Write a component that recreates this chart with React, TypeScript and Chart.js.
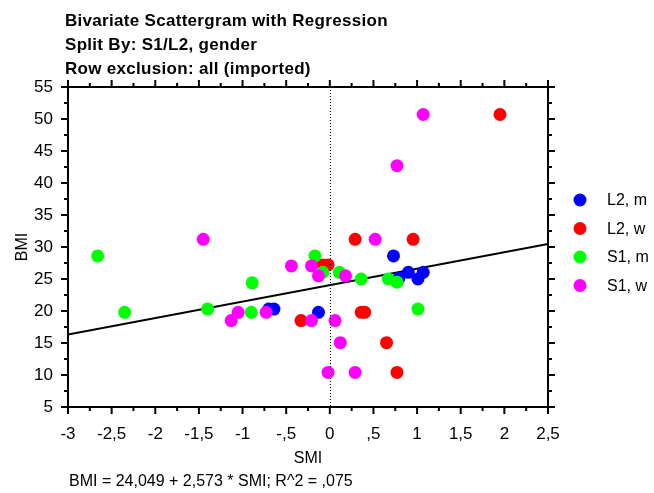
import React, { useEffect, useRef } from 'react';
import { Chart, registerables } from 'chart.js';

Chart.register(...registerables);

const FONT = '"Liberation Sans", Arial, sans-serif';

const titleLines = ['Bivariate Scattergram with Regression', 'Split By: S1/L2, gender', 'Row exclusion: all (imported)'];
const xAxisTitle = 'SMI';
const yAxisTitle = 'BMI';
const equationText = 'BMI = 24,049 + 2,573 * SMI; R^2 = ,075';

const seriesNames = ['L2, m', 'L2, w', 'S1, m', 'S1, w'];
const seriesColors = ['#0000FF', '#FF0000', '#00FF00', '#FF00FF'];

const l2mX = [-0.70, -0.64, -0.13, 0.73, 0.79, 0.90, 1.01, 1.07];
const l2mY = [20.3, 20.3, 19.8, 28.6, 25.1, 26.05, 25.0, 26.05];

const l2wX = [0.29, 0.955, 1.95, -0.08, -0.02, -0.33, 0.36, 0.40, 0.65, 0.77];
const l2wY = [31.2, 31.2, 50.7, 27.2, 27.2, 18.5, 19.8, 19.8, 15.05, 10.4];

const s1mX = [-2.66, -2.35, -1.40, -0.89, -0.90, -0.17, -0.08, 0.11, 0.36, 0.67, 0.77, 1.01];
const s1mY = [28.6, 19.8, 20.3, 24.4, 19.8, 28.6, 26.05, 26.05, 25.0, 25.0, 24.5, 20.3];

const s1wX = [1.07, 0.77, 0.52, -1.45, -1.13, -1.05, -0.73, -0.44, -0.21, -0.13, 0.18, -0.21, 0.06, 0.12, -0.02, 0.29];
const s1wY = [50.7, 42.7, 31.2, 31.2, 18.5, 19.8, 19.8, 27.05, 27.05, 25.5, 25.5, 18.5, 18.5, 15.05, 10.4, 10.4];

const regressionX = [-3, 2.5];
const regressionY = [16.33, 30.48];

const xTickValues = [-3, -2.5, -2, -1.5, -1, -0.5, 0, 0.5, 1, 1.5, 2, 2.5];
const xTickLabels = ['-3', '-2,5', '-2', '-1,5', '-1', '-,5', '0', ',5', '1', '1,5', '2', '2,5'];
const xMinorValues = [-2.75, -2.25, -1.75, -1.25, -0.75, -0.25, 0.25, 0.75, 1.25, 1.75, 2.25];
const yTickValues = [5, 10, 15, 20, 25, 30, 35, 40, 45, 50, 55];
const yTickLabels = ['5', '10', '15', '20', '25', '30', '35', '40', '45', '50', '55'];
const yMinorValues = [7.5, 12.5, 17.5, 22.5, 27.5, 32.5, 37.5, 42.5, 47.5, 52.5];

const xsAll = [l2mX, l2wX, s1mX, s1wX];
const ysAll = [l2mY, l2wY, s1mY, s1wY];

const framePlugin = {
  id: 'frame',
  afterDatasetsDraw(chart: any) {
    const { ctx, chartArea } = chart;
    const xs = chart.scales.x;
    const ys = chart.scales.y;
    const { left, right, top, bottom } = chartArea;
    ctx.save();
    // dotted zero line
    const zx = Math.round(xs.getPixelForValue(0)) + 0.5;
    ctx.strokeStyle = '#000';
    ctx.lineWidth = 1;
    ctx.setLineDash([1, 2]);
    ctx.beginPath();
    ctx.moveTo(zx, top);
    ctx.lineTo(zx, bottom);
    ctx.stroke();
    ctx.setLineDash([]);
    // box
    ctx.lineWidth = 2;
    ctx.strokeRect(left, top, right - left, bottom - top);
    // ticks
    const major = 7;
    const minor = 4;
    ctx.beginPath();
    const drawX = (v: number, len: number) => {
      const p = xs.getPixelForValue(v);
      ctx.moveTo(p, bottom);
      ctx.lineTo(p, bottom + len);
      ctx.moveTo(p, top);
      ctx.lineTo(p, top - len);
    };
    const drawY = (v: number, len: number) => {
      const p = ys.getPixelForValue(v);
      ctx.moveTo(left, p);
      ctx.lineTo(left - len, p);
      ctx.moveTo(right, p);
      ctx.lineTo(right + len, p);
    };
    xTickValues.forEach((v) => drawX(v, major));
    xMinorValues.forEach((v) => drawX(v, minor));
    yTickValues.forEach((v) => drawY(v, major));
    yMinorValues.forEach((v) => drawY(v, minor));
    ctx.stroke();
    ctx.restore();
  },
  afterDraw(chart: any) {
    const { ctx } = chart;
    ctx.save();
    ctx.fillStyle = '#000';
    ctx.textAlign = 'left';
    ctx.textBaseline = 'alphabetic';
    ctx.font = `bold 17px ${FONT}`;
    try { (ctx as any).letterSpacing = '0.3px'; } catch (e) {}
    const baselines = [26, 50, 73.5];
    titleLines.forEach((t, i) => ctx.fillText(t, 65, baselines[i]));
    try { (ctx as any).letterSpacing = '0px'; } catch (e) {}
    // equation
    ctx.font = `16px ${FONT}`;
    ctx.fillText(equationText, 69, 486);
    // legend
    const legendY = [200, 228.5, 257, 285.5];
    seriesNames.forEach((name, i) => {
      ctx.beginPath();
      ctx.fillStyle = seriesColors[i];
      ctx.arc(580, legendY[i], 6.5, 0, Math.PI * 2);
      ctx.fill();
      ctx.fillStyle = '#000';
      ctx.textBaseline = 'middle';
      ctx.fillText(name, 607, legendY[i] + 1);
    });
    ctx.restore();
  },
};

export default function App() {
  const ref = useRef<HTMLCanvasElement | null>(null);
  useEffect(() => {
    if (!ref.current) return;
    const datasets: any[] = seriesNames.map((name, i) => ({
      type: 'scatter',
      label: name,
      data: xsAll[i].map((x, j) => ({ x, y: ysAll[i][j] })),
      backgroundColor: seriesColors[i],
      borderColor: seriesColors[i],
      borderWidth: 0,
      pointRadius: 6.5,
      pointHoverRadius: 6.5,
      order: 4 - i,
    }));
    datasets.push({
      type: 'line',
      label: 'Regression',
      data: regressionX.map((x, j) => ({ x, y: regressionY[j] })),
      borderColor: '#000',
      borderWidth: 2,
      pointRadius: 0,
      fill: false,
      order: 10,
    });
    const tickFont = { family: FONT, size: 17 };
    const chart = new Chart(ref.current, {
      type: 'scatter',
      data: { datasets },
      options: {
        responsive: false,
        animation: false,
        layout: { padding: { top: 87, right: 106, left: 0, bottom: 0 } },
        plugins: { legend: { display: false }, title: { display: false }, tooltip: { enabled: false } },
        scales: {
          x: {
            type: 'linear',
            min: -3,
            max: 2.5,
            afterFit: (s: any) => { s.height = 86; },
            afterBuildTicks: (s: any) => { s.ticks = xTickValues.map((v) => ({ value: v })); },
            ticks: {
              callback: (_v: any, i: number) => xTickLabels[i],
              font: tickFont,
              color: '#000',
              padding: 9,
              maxRotation: 0,
              autoSkip: false,
            },
            grid: { display: false },
            border: { display: false },
            title: { display: true, text: xAxisTitle, color: '#000', font: { family: FONT, size: 16 }, padding: { top: 0, bottom: 25 } },
          },
          y: {
            type: 'linear',
            min: 5,
            max: 55,
            afterFit: (s: any) => { s.width = 68; },
            afterBuildTicks: (s: any) => { s.ticks = yTickValues.map((v) => ({ value: v })); },
            ticks: {
              callback: (_v: any, i: number) => yTickLabels[i],
              font: tickFont,
              color: '#000',
              padding: 7,
              autoSkip: false,
            },
            grid: { display: false },
            border: { display: false },
            title: { display: true, text: yAxisTitle, color: '#000', font: { family: FONT, size: 16 }, padding: { top: 13, bottom: 0 } },
          },
        },
      } as any,
      plugins: [framePlugin],
    });
    return () => chart.destroy();
  }, []);
  return (
    <div style={{ position: 'fixed', left: 0, top: 0, width: 654, height: 493, background: '#fff' }}>
      <canvas ref={ref} width={654} height={493} />
    </div>
  );
}
